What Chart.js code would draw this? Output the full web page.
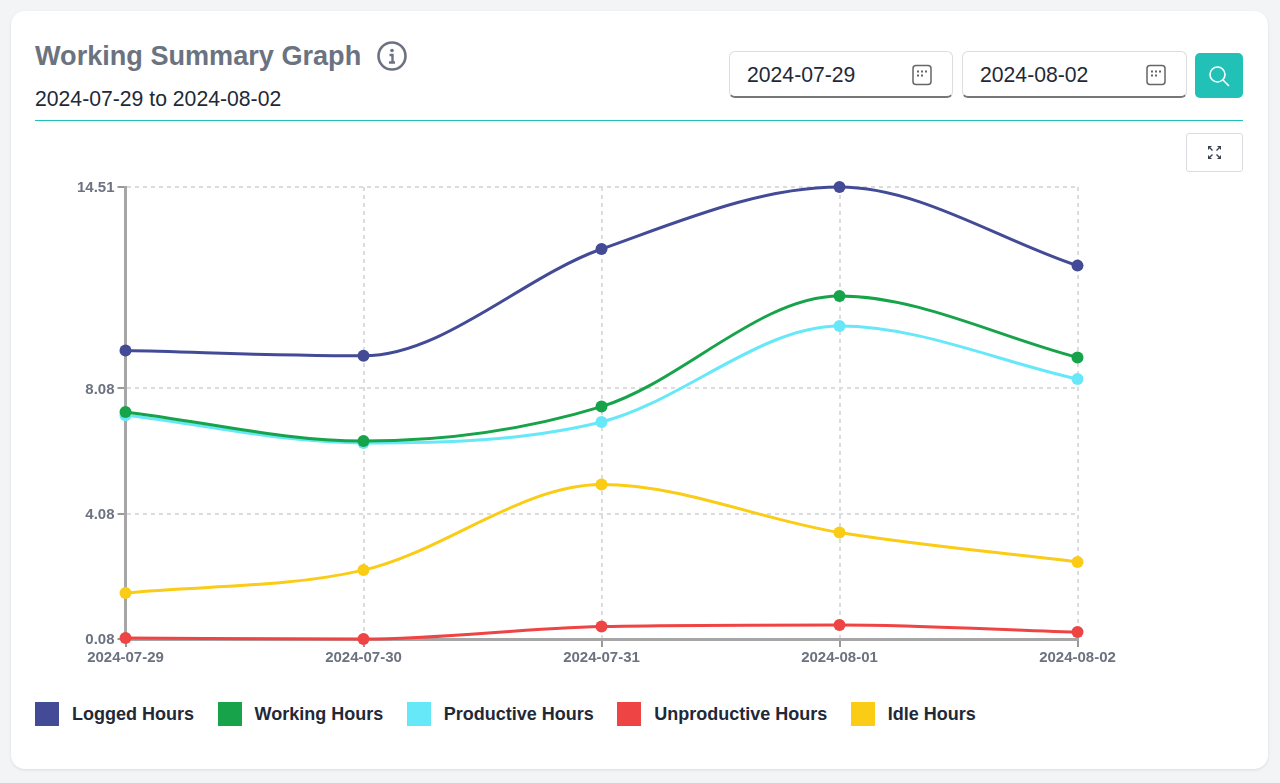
<!DOCTYPE html>
<html>
<head>
<meta charset="utf-8">
<title>Working Summary Graph</title>
<script src="https://cdn.jsdelivr.net/npm/chart.js@4"></script>
<style>
    * { box-sizing: border-box; }
    html, body { margin: 0; height: 100%; background: #f3f4f6; font-family: "Liberation Sans", sans-serif; overflow: hidden; }
    .card { position: absolute; left: 11px; top: 11px; width: 1257px; height: 758px; background: #fff; border-radius: 14px; box-shadow: 0 1px 3px rgba(0,0,0,.1); }
    .titulo { position: absolute; left: 35px; top: 40px; font-size: 27.1px; font-weight: 700; color: #6b7280; line-height: 32px; white-space: nowrap; }
    .info { position: absolute; left: 377px; top: 41px; }
    .periodo { position: absolute; left: 35px; top: 86px; font-size: 21.2px; color: #1f2937; line-height: 26px; white-space: nowrap; }
    .divisor { position: absolute; left: 35px; top: 120px; width: 1208px; height: 1px; background: #22c1b8; }
    .data { position: absolute; top: 51px; height: 47px; background: #fff; border: 1px solid #ddd; border-bottom: 2px solid #777; border-radius: 6px; font-size: 21.2px; color: #1f2937; line-height: 45px; padding-left: 17px; }
    .data svg { position: absolute; right: 19px; top: 12px; }
    .busca { position: absolute; left: 1195px; top: 53px; width: 48px; height: 45px; background: #22c1b8; border-radius: 5px; }
    .busca svg { position: absolute; left: 12px; top: 11px; }
    .expandir { position: absolute; left: 1186px; top: 133px; width: 57px; height: 39px; background: #fff; border: 1px solid #d9dce0; border-radius: 3px; }
    .expandir svg { position: absolute; left: 19px; top: 10px; }
    #grafico { position: absolute; left: 35px; top: 170px; }
    #legenda { position: absolute; left: 35px; top: 702px; display: flex; align-items: center; height: 24px; }
    .item { display: flex; align-items: center; margin-right: 23.5px; font-size: 18px; font-weight: 700; color: #1f2937; }
    .item i { display: block; width: 24px; height: 24px; margin-right: 13px; }
</style>
</head>
<body>
<div class="card"></div>
<div class="titulo">Working Summary Graph</div>
<svg class="info" width="30" height="30" viewBox="0 0 30 30" fill="none" stroke="#6b7280">
    <circle cx="15" cy="15" r="13.5" stroke-width="2.6"/>
    <circle cx="15" cy="9.5" r="1.8" fill="#6b7280" stroke="none"/>
    <path d="M12.5 14h3v7.5M12 21.5h6" stroke-width="2.4"/>
</svg>
<div class="periodo">2024-07-29 to 2024-08-02</div>
<div class="data" style="left:729px;width:224px">2024-07-29
    <svg width="22" height="22" viewBox="0 0 22 22" fill="none" stroke="#666"><rect x="2" y="1.5" width="18" height="19" rx="3" stroke-width="1.5"/><path d="M6 7.5h2M10 7.5h2M14 7.5h2M6 11.5h2M10 11.5h2" stroke-width="2"/></svg>
</div>
<div class="data" style="left:962px;width:225px">2024-08-02
    <svg width="22" height="22" viewBox="0 0 22 22" fill="none" stroke="#666"><rect x="2" y="1.5" width="18" height="19" rx="3" stroke-width="1.5"/><path d="M6 7.5h2M10 7.5h2M14 7.5h2M6 11.5h2M10 11.5h2" stroke-width="2"/></svg>
</div>
<div class="busca">
    <svg width="24" height="24" viewBox="0 0 24 24" fill="none" stroke="#fff" stroke-width="1.6"><circle cx="10.5" cy="10.5" r="7.5"/><path d="M16 16l6 6"/></svg>
</div>
<div class="divisor"></div>
<div class="expandir">
    <svg width="17" height="17" viewBox="0 0 17 17" fill="#374151" stroke="none"><path d="M2 2h4L2 6zM15 2h-4l4 4zM2 15h4l-4-4zM15 15h-4l4-4z"/><path d="M4 4l2.5 2.5M13 4l-2.5 2.5M4 13l2.5-2.5M13 13l-2.5-2.5" stroke="#374151" stroke-width="1.4"/></svg>
</div>
<canvas id="grafico" width="1100" height="510"></canvas>
<div id="legenda"></div>

<script>
// Dados do gráfico
const categorias = ['2024-07-29', '2024-07-30', '2024-07-31', '2024-08-01', '2024-08-02'];
const marcasY = [0.08, 4.08, 8.08, 14.51];

const loggedHours = [9.29, 9.12, 12.53, 14.51, 12.00];
const workingHours = [7.33, 6.40, 7.50, 11.03, 9.07];
const productiveHours = [7.22, 6.34, 7.01, 10.07, 8.38];
const unproductiveHours = [0.11, 0.08, 0.48, 0.53, 0.30];
const idleHours = [1.55, 2.28, 5.01, 3.48, 2.54];

const nomesSeries = ['Logged Hours', 'Working Hours', 'Productive Hours', 'Unproductive Hours', 'Idle Hours'];
const valoresSeries = [loggedHours, workingHours, productiveHours, unproductiveHours, idleHours];
const coresSeries = ['#434a96', '#16a34a', '#67e8f9', '#ef4444', '#facc15'];

const fonteEixo = { family: '"Liberation Sans", sans-serif', size: 15, weight: 'bold' };

const ctx = document.getElementById('grafico').getContext('2d');
const graficoResumo = new Chart(ctx, {
    type: 'line',
    data: {
        labels: categorias,
        datasets: nomesSeries.map((nome, i) => ({
            label: nome,
            data: valoresSeries[i],
            borderColor: coresSeries[i],
            backgroundColor: coresSeries[i],
            borderWidth: 3,
            pointRadius: 6,
            pointBorderWidth: 0,
            cubicInterpolationMode: 'monotone',
            clip: false
        }))
    },
    options: {
        responsive: false,
        animation: false,
        layout: { padding: { top: 17, right: 57.5 } },
        plugins: { legend: { display: false }, tooltip: { enabled: false } },
        scales: {
            x: {
                offset: false,
                grid: { color: '#dcdcdc', lineWidth: 2, tickColor: '#999', tickLength: 8 },
                border: { color: '#a6a6a6', width: 3, dash: [4, 4] },
                ticks: { color: '#6b7280', font: fonteEixo, maxRotation: 0, autoSkip: false, padding: 2 },
                afterFit: scale => { scale.height = 41; }
            },
            y: {
                min: 0.08,
                max: 14.51,
                afterBuildTicks: scale => { scale.ticks = marcasY.map(v => ({ value: v })); },
                grid: { color: '#dcdcdc', lineWidth: 2, tickColor: '#999', tickLength: 8 },
                border: { color: '#a6a6a6', width: 3, dash: [4, 4] },
                ticks: { color: '#6b7280', font: fonteEixo, padding: 3, labelOffset: 1, callback: v => v.toFixed(2) },
                afterFit: scale => { scale.width = 90.5; }
            }
        }
    }
});

// Legenda
const legenda = document.getElementById('legenda');
graficoResumo.data.datasets.forEach(ds => {
    legenda.insertAdjacentHTML('beforeend', `<div class="item"><i style="background:${ds.borderColor}"></i>${ds.label}</div>`);
});
</script>
</body>
</html>
